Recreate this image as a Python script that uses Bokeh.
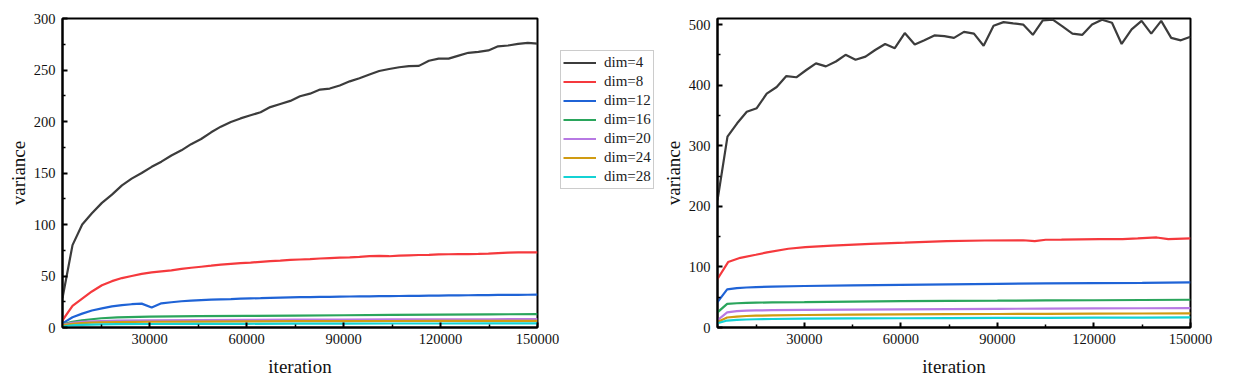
from bokeh.plotting import figure
from bokeh.models import FixedTicker, Legend, LegendItem, Range1d, NumeralTickFormatter
from bokeh.layouts import row
from bokeh.embed import file_html
from bokeh.resources import INLINE

# ---------------- data ----------------
iters = [3000, 6100, 9100, 12100, 15200, 18300, 21400, 24400, 27500, 30600,
         33600, 36700, 39800, 42800, 45900, 49000, 52000, 55100, 58100, 61200,
         64300, 67300, 70400, 73500, 76500, 79600, 82700, 85700, 88800, 91900,
         94900, 98000, 101000, 104100, 107200, 110200, 113300, 116400, 119400, 122500,
         125600, 128600, 131700, 134800, 137800, 140900, 144000, 147000, 150000]
iters_coarse = [3000, 6000, 9000, 12000, 15000, 20000, 30000, 45000, 60000,
                75000, 90000, 105000, 120000, 135000, 150000]
iters_red_right = [3000, 6300, 10100, 14900, 18400, 25000, 30300, 38600, 50500,
                   61200, 74200, 86100, 98000, 101600, 105000, 109900, 121700,
                   128900, 133600, 139500, 143100, 150000]

left_dim4 = [28.5, 80, 100, 111, 121, 129, 138, 144.5, 150, 156,
             161, 167, 172, 178, 183, 189.5, 195, 199.6, 203, 206,
             209, 214, 217, 220, 224.5, 227, 231, 232, 235, 239,
             242, 245.6, 249, 251, 252.7, 253.7, 254, 259, 261, 261,
             264, 266.7, 267.6, 269, 273, 273.8, 275.4, 276.4, 275.7]
left_dim8 = [7, 21, 28, 35, 41, 45, 48, 50, 52, 53.5,
             54.5, 55.5, 57, 58, 59, 60, 61, 61.8, 62.5, 63,
             63.8, 64.5, 65, 65.6, 66, 66.4, 67, 67.4, 67.8, 68,
             68.6, 69.3, 69.6, 69.2, 69.8, 70.1, 70.4, 70.6, 71, 71.1,
             71.2, 71.2, 71.4, 71.7, 72.3, 72.7, 72.9, 73, 73]
left_dim12 = [4, 10, 13.5, 16.5, 18.5, 20.5, 21.8, 22.6, 23.2, 19.5,
              23.5, 24.5, 25.5, 26, 26.5, 27, 27.3, 27.6, 28, 28.3,
              28.5, 28.8, 29, 29.2, 29.4, 29.5, 29.7, 29.8, 30, 30.1,
              30.2, 30.3, 30.4, 30.5, 30.6, 30.7, 30.8, 30.9, 31, 31.1,
              31.2, 31.3, 31.4, 31.5, 31.6, 31.6, 31.7, 31.8, 32]
left_dim16 = [3, 5.5, 7, 8, 9, 9.8, 10.5, 11, 11.3, 11.6, 11.9, 12.2, 12.5, 12.8, 13]
left_dim20 = [2.5, 4.5, 5.5, 6, 6.3, 6.6, 7, 7.2, 7.4, 7.6, 7.7, 7.8, 7.9, 8, 8.1]
left_dim24 = [2, 3.5, 4.3, 4.8, 5, 5.3, 5.6, 5.8, 6, 6.1, 6.2, 6.3, 6.4, 6.5, 6.5]
left_dim28 = [1, 2, 2.5, 2.8, 3, 3.2, 3.4, 3.5, 3.6, 3.7, 3.8, 3.9, 3.9, 4, 4]

right_dim4 = [210, 315, 337, 356, 362, 386, 397, 415, 413, 425,
              436, 431, 439, 450, 442, 447, 458, 468, 461, 486,
              467, 474, 482, 481, 478, 488, 485, 465, 498, 504,
              502, 500, 483, 507, 508, 497, 485, 483, 500, 508,
              503, 468, 492, 506, 485, 506, 478, 474, 480]
right_dim8 = [80, 108, 115, 120, 124, 130, 132.6, 135, 138, 140, 142.5,
              143.6, 144, 142.5, 144.8, 145, 146, 146, 147, 148.6, 146, 147]
right_dim12 = [42, 63, 65, 66, 66.8, 67.5, 68.5, 69.5, 70.5, 71.3, 72, 72.8, 73.3, 73.8, 74.6]
right_dim16 = [25, 39, 40, 40.5, 41, 41.5, 42, 42.8, 43.5, 44, 44.3, 44.7, 45, 45.4, 45.8]
right_dim20 = [12, 25, 27, 27.8, 28.2, 28.6, 29, 29.5, 30, 30.4, 30.8, 31.2, 31.5, 31.8, 32]
right_dim24 = [9, 16.5, 18, 19, 19.5, 20, 20.6, 21.2, 21.7, 22, 22.3, 22.6, 22.9, 23.1, 23.3]
right_dim28 = [7, 11.5, 12.5, 13.2, 13.6, 14, 14.5, 15, 15.3, 15.6, 15.8, 16, 16.2, 16.4, 16.6]

labels = ["dim=4", "dim=8", "dim=12", "dim=16", "dim=20", "dim=24", "dim=28"]
colors = ["#3c3c3c", "#f5393d", "#1f63d6", "#2aa55c", "#b779e3", "#d09b12", "#14d2d4"]

x_major = [30000, 60000, 90000, 120000, 150000]
x_minor = [15000, 45000, 75000, 105000, 135000]

FONT = "Liberation Serif"
HEIGHT = 381
FRAME_TOP = 18
FRAME_BOTTOM = 327


def make_fig(width, border_left, border_right, y_end, y_major, y_minor):
    p = figure(width=width, height=HEIGHT, x_range=Range1d(3000, 150000),
               y_range=Range1d(0, y_end), output_backend="svg",
               toolbar_location=None, min_border_left=border_left,
               min_border_right=border_right, min_border_top=FRAME_TOP,
               min_border_bottom=HEIGHT - FRAME_BOTTOM)
    p.grid.visible = False
    p.outline_line_color = "black"
    p.outline_line_width = 2
    p.xaxis.ticker = FixedTicker(ticks=x_major, minor_ticks=x_minor)
    p.yaxis.ticker = FixedTicker(ticks=y_major, minor_ticks=y_minor)
    p.xaxis.formatter = NumeralTickFormatter(format="0")
    p.yaxis.formatter = NumeralTickFormatter(format="0")
    for ax in (p.xaxis[0], p.yaxis[0]):
        ax.axis_line_width = 2
        ax.axis_line_color = "black"
        ax.major_tick_in = 5
        ax.major_tick_out = 0
        ax.minor_tick_in = 3
        ax.minor_tick_out = 0
        ax.major_tick_line_width = 2
        ax.minor_tick_line_width = 1.5
        ax.major_label_text_font = FONT
        ax.major_label_text_font_size = "14.5px"
        ax.major_label_text_color = "#111111"
        ax.axis_label_text_font = FONT
        ax.axis_label_text_font_size = "19px"
        ax.axis_label_text_font_style = "normal"
        ax.axis_label_text_color = "#111111"
    p.xaxis.axis_label = "iteration"
    p.yaxis.axis_label = "variance"
    p.xaxis.major_label_standoff = 6
    p.xaxis.axis_label_standoff = 9
    p.yaxis.major_label_standoff = 7
    p.yaxis.axis_label_standoff = 2
    return p


# ---------------- left ----------------
p1 = make_fig(560, 62, 23, 300, [0, 50, 100, 150, 200, 250, 300],
              [25, 75, 125, 175, 225, 275])
left_series = [(iters, left_dim4), (iters, left_dim8), (iters, left_dim12),
               (iters_coarse, left_dim16), (iters_coarse, left_dim20),
               (iters_coarse, left_dim24), (iters_coarse, left_dim28)]
for (xs, ys), col in zip(left_series, colors):
    p1.line(xs, ys, line_color=col, line_width=2.2)

# ---------------- legend panel (between the two plots) ----------------
p_leg = figure(width=94, height=HEIGHT, x_range=Range1d(0, 1), y_range=Range1d(0, 1),
               output_backend="svg", toolbar_location=None,
               x_axis_location=None, y_axis_location=None,
               min_border_left=0, min_border_right=0, min_border_top=FRAME_TOP,
               min_border_bottom=HEIGHT - FRAME_BOTTOM)
p_leg.grid.visible = False
p_leg.outline_line_color = None
items = []
for (xs, ys), lab, col in zip(left_series, labels, colors):
    # same series as the left plot; they fall outside this panel's ranges,
    # only their legend entries are shown
    r = p_leg.line(xs, ys, line_color=col, line_width=2.2)
    items.append(LegendItem(label=lab, renderers=[r]))
legend = Legend(items=items, location=(0, FRAME_BOTTOM - 189), padding=2, margin=0,
                spacing=0, glyph_width=33, glyph_height=19, label_height=19,
                label_standoff=8, label_text_font=FONT,
                label_text_font_size="15px", label_text_color="#222222",
                border_line_color="#999999", border_line_width=1,
                background_fill_color="white", background_fill_alpha=1)
p_leg.add_layout(legend, "center")

# ---------------- right ----------------
p2 = make_fig(588, 63, 52, 510, [0, 100, 200, 300, 400, 500],
              [50, 150, 250, 350, 450])
right_series = [(iters, right_dim4), (iters_red_right, right_dim8),
                (iters_coarse, right_dim12), (iters_coarse, right_dim16),
                (iters_coarse, right_dim20), (iters_coarse, right_dim24),
                (iters_coarse, right_dim28)]
for (xs, ys), col in zip(right_series, colors):
    p2.line(xs, ys, line_color=col, line_width=2.2)

layout = row(p1, p_leg, p2)
open("out.html", "w").write(file_html(layout, INLINE))
